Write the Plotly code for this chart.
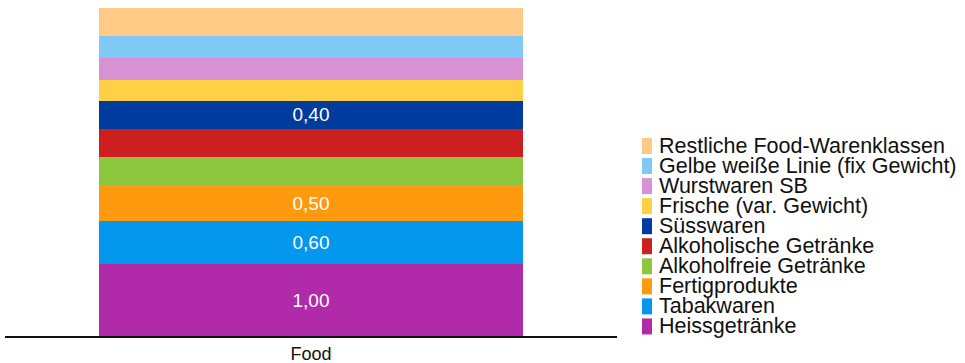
import plotly.graph_objects as go

# Stacked shares per product class (bottom to top of the stack)
categories = ["Food"]
series_names = [
    "Heissgetränke",
    "Tabakwaren",
    "Fertigprodukte",
    "Alkoholfreie Getränke",
    "Alkoholische Getränke",
    "Süsswaren",
    "Frische (var. Gewicht)",
    "Wurstwaren SB",
    "Gelbe weiße Linie (fix Gewicht)",
    "Restliche Food-Warenklassen",
]
series_values = [1.00, 0.60, 0.50, 0.39, 0.39, 0.40, 0.28, 0.31, 0.31, 0.39]
series_colors = [
    "#B12AAA", "#0397EE", "#FF9A0E", "#8DC63F", "#CC1F1F",
    "#003C9E", "#FFCF45", "#D891D4", "#80C8F6", "#FFCA86",
]
LABEL_MIN = 0.40  # segments below this value carry no value label

FONT = "Arial, Liberation Sans, sans-serif"
W, H = 965, 363
ML, MR, MT, MB = 5, 348, 8, 27
PW, PH = W - ML - MR, H - MT - MB


def paper_x(px):
    return (px - ML) / PW


def paper_y(py):
    return (MT + PH - py) / PH


fig = go.Figure()
for name, val, col in zip(series_names, series_values, series_colors):
    show = val >= LABEL_MIN - 1e-9
    fig.add_trace(go.Bar(
        x=categories,
        y=[val],
        name=name,
        marker=dict(color=col, line=dict(width=0)),
        texttemplate="%{y:.2f}" if show else "",
        textposition="inside" if show else "none",
        insidetextanchor="middle",
        constraintext="none",
        textfont=dict(family=FONT, size=19, color="white"),
        hoverinfo="skip",
        showlegend=False,
    ))

total = sum(series_values)

# Legend: swatch + label per series, listed top-down in stack order
shapes, annotations = [], []
row0, step = 145.5, 20.05
for i, (name, col) in enumerate(zip(reversed(series_names), reversed(series_colors))):
    cy = row0 + i * step
    shapes.append(dict(
        type="rect", xref="paper", yref="paper",
        x0=paper_x(642), x1=paper_x(652),
        y0=paper_y(cy + 8.5), y1=paper_y(cy - 7.5),
        fillcolor=col, line=dict(width=0), layer="above",
    ))
    annotations.append(dict(
        text=name, xref="paper", yref="paper",
        x=paper_x(657), y=paper_y(cy + 0.5),
        xanchor="left", yanchor="middle",
        showarrow=False,
        font=dict(family=FONT, size=21.5, color="#111111"),
    ))

fig.update_layout(
    width=W, height=H,
    margin=dict(l=ML, r=MR, t=MT, b=MB, autoexpand=False),
    barmode="stack",
    bargap=0.307,
    separators=",.",
    plot_bgcolor="white",
    paper_bgcolor="white",
    showlegend=False,
    shapes=shapes,
    annotations=annotations,
    font=dict(family=FONT, color="#111111"),
    xaxis=dict(
        showline=True, linecolor="#111111", linewidth=2,
        showgrid=False, zeroline=False, ticks="",
        ticklabelstandoff=0, automargin=False,
        tickfont=dict(family=FONT, size=18, color="#111111"),
        fixedrange=True,
    ),
    yaxis=dict(
        range=[0, total], visible=False, showgrid=False,
        zeroline=False, fixedrange=True, automargin=False,
    ),
)

fig.write_html("out.html")
